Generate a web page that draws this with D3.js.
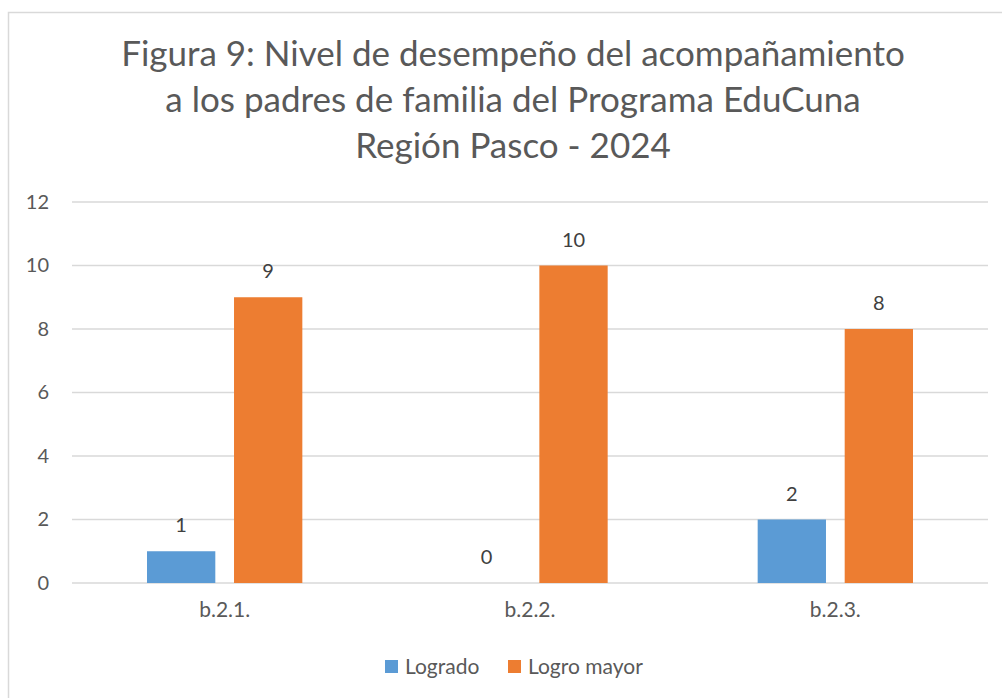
<!DOCTYPE html>
<html>
<head>
<meta charset="utf-8">
<script src="https://cdn.jsdelivr.net/npm/d3@7"></script>
<style>
  body { margin: 0; background: #fff; }
  svg { display: block; font-family: Lato, "Open Sans", sans-serif; }
</style>
</head>
<body>
<div id="chart"></div>
<script>
var titleLines = [
    "Figura 9: Nivel de desempeño del acompañamiento",
    "a los padres de familia del Programa EduCuna",
    "Región Pasco - 2024"
];
var categories = ["b.2.1.", "b.2.2.", "b.2.3."];
var seriesNames = ["Logrado", "Logro mayor"];
var logrado = [1, 0, 2];
var logroMayor = [9, 10, 8];
var yTicks = [0, 2, 4, 6, 8, 10, 12];
var colors = ["#5B9BD5", "#ED7D31"];

var width = 1002,
    height = 698,
    plot = { left: 72, right: 988, top: 202, bottom: 583 };

var rows = categories.map(function (c, i) {
    return { cat: c, values: [logrado[i], logroMayor[i]] };
});

var svg = d3
    .select("#chart")
    .append("svg")
    .attr("width", width)
    .attr("height", height);

// chart frame
svg.append("rect")
    .attr("x", 8.5)
    .attr("y", 12.5)
    .attr("width", 1010)
    .attr("height", 710)
    .attr("fill", "#fff")
    .attr("stroke", "#d9d9d9")
    .attr("stroke-width", 1.5);

// title
svg.append("text")
    .attr("text-anchor", "middle")
    .attr("fill", "#595959")
    .style("font-size", "35px")
    .selectAll("tspan")
    .data(titleLines)
    .enter()
    .append("tspan")
    .attr("x", 513)
    .attr("y", function (d, i) { return 66 + i * 46; })
    .text(function (d) { return d; });

var y = d3.scaleLinear().domain([0, 12]).range([plot.bottom, plot.top]);

var x0 = d3.scaleBand()
    .domain(categories)
    .range([plot.left, plot.right]);

var x1 = d3.scaleBand()
    .domain(seriesNames)
    .range([75, x0.bandwidth() - 75])
    .paddingInner(0.215);

// gridlines
svg.append("g")
    .selectAll("line")
    .data(yTicks)
    .enter()
    .append("line")
    .attr("x1", plot.left)
    .attr("x2", plot.right)
    .attr("y1", function (d) { return y(d); })
    .attr("y2", function (d) { return y(d); })
    .attr("stroke", "#d9d9d9")
    .attr("stroke-width", 1.3);

// y axis labels
var yAxis = d3.axisLeft(y).tickValues(yTicks).tickSize(0).tickPadding(0);
var yg = svg.append("g")
    .attr("transform", "translate(49,0)")
    .call(yAxis);
yg.select(".domain").remove();
yg.selectAll("text")
    .attr("fill", "#595959")
    .style("font-size", "20px")
    .style("font-family", "Lato, sans-serif");

// x axis labels
var xAxis = d3.axisBottom(x0).tickSize(0).tickPadding(0);
var xg = svg.append("g")
    .attr("transform", "translate(0," + (plot.bottom + 19) + ")")
    .call(xAxis);
xg.select(".domain").remove();
xg.selectAll("text")
    .attr("fill", "#595959")
    .style("font-size", "21px")
    .style("font-family", "Lato, sans-serif");

// bars
var groups = svg.append("g")
    .selectAll("g")
    .data(rows)
    .enter()
    .append("g")
    .attr("transform", function (d) { return "translate(" + x0(d.cat) + ",0)"; });

var cells = groups.selectAll("g")
    .data(function (d) {
        return d.values.map(function (v, i) { return { key: seriesNames[i], value: v, i: i }; });
    })
    .enter()
    .append("g");

cells.append("rect")
    .attr("x", function (d) { return x1(d.key); })
    .attr("y", function (d) { return y(d.value); })
    .attr("width", x1.bandwidth())
    .attr("height", function (d) { return y(0) - y(d.value); })
    .attr("fill", function (d) { return colors[d.i]; });

cells.append("text")
    .attr("x", function (d) { return x1(d.key) + x1.bandwidth() / 2; })
    .attr("y", function (d) { return y(d.value) - 19; })
    .attr("text-anchor", "middle")
    .attr("fill", "#404040")
    .style("font-size", "20px")
    .text(function (d) { return d.value; });

// legend
var legendX = [385, 508];
var legend = svg.append("g")
    .selectAll("g")
    .data(seriesNames)
    .enter()
    .append("g")
    .attr("transform", function (d, i) { return "translate(" + legendX[i] + ",660)"; });

legend.append("rect")
    .attr("width", 13)
    .attr("height", 13)
    .attr("fill", function (d, i) { return colors[i]; });

legend.append("text")
    .attr("x", 20)
    .attr("y", 14)
    .attr("fill", "#595959")
    .style("font-size", "21px")
    .text(function (d) { return d; });
</script>
</body>
</html>
